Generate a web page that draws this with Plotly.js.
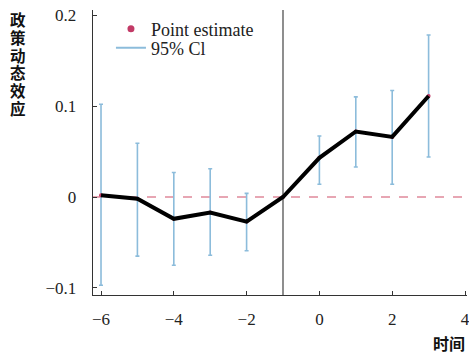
<!DOCTYPE html>
<html><head><meta charset="utf-8">
<script src="https://cdn.plot.ly/plotly-3.0.1.min.js"></script>
<style>body{margin:0;background:#fff}#c{width:469px;height:356px}</style>
</head><body><div id="c"></div>
<script>
var periods = [-6, -5, -4, -3, -2, -1, 0, 1, 2, 3];
var estimate = [0.002, -0.002, -0.024, -0.017, -0.027, 0, 0.043, 0.072, 0.066, 0.111];
var ciUpper = [0.102, 0.059, 0.027, 0.031, 0.004, null, 0.067, 0.110, 0.117, 0.178];
var ciLower = [-0.097, -0.065, -0.075, -0.064, -0.059, null, 0.014, 0.033, 0.014, 0.044];
var xTicks = [-6, -4, -2, 0, 2, 4];
var yTicks = [-0.1, 0, 0.1, 0.2];
var yTickText = ['\u22120.1', '0', '0.1', '0.2'];
var yTitle = '政策动态效应';
var xTitle = '时间';
var eventPeriod = -1;

var ciX = [], ciY = [], errP = [], errM = [];
for (var i = 0; i < periods.length; i++) {
  if (ciUpper[i] === null) continue;
  ciX.push(periods[i]); ciY.push(estimate[i]);
  errP.push(ciUpper[i] - estimate[i]); errM.push(estimate[i] - ciLower[i]);
}
var blue = '#8cbcdb';
var red = '#c23a66';
var traces = [
  {x: ciX, y: ciY, mode: 'markers', marker: {opacity: 0, size: 1}, showlegend: false, hoverinfo: 'skip',
   error_y: {type: 'data', symmetric: false, array: errP, arrayminus: errM, color: blue, thickness: 1.6, width: 2}},
  {x: periods, y: estimate, mode: 'markers', showlegend: false, marker: {color: red, size: 4}},
  {x: [null], y: [null], mode: 'markers', name: 'Point estimate', legend: 'legend', marker: {color: red, size: 7}},
  {x: [null], y: [null], mode: 'lines', name: '95% Cl', legend: 'legend2', line: {color: blue, width: 2}},
  {x: periods, y: estimate, mode: 'lines', showlegend: false, line: {color: '#000', width: 4}}
];
var W = 469, H = 356, L = 93, R = 2, T = 10, B = 61;
var ph = H - T - B, pw = W - L - R;
var ann = [];
for (var k = 0; k < yTitle.length; k++) {
  ann.push({text: yTitle[k], xref: 'paper', yref: 'paper', x: (18 - L) / pw, y: 1 - (19 + 17.8 * k - T) / ph,
    xanchor: 'center', yanchor: 'middle', showarrow: false,
    font: {family: 'Noto Sans CJK SC', size: 15.5, color: '#111', weight: 'bold'}});
}
ann.push({text: '<b>' + xTitle + '</b>', xref: 'paper', yref: 'paper', x: (449 - L) / pw, y: -(343 - T - ph) / ph,
  xanchor: 'center', yanchor: 'middle', showarrow: false, font: {family: 'Noto Sans CJK SC', size: 16, color: '#111'}});

var legFont = {family: 'Liberation Serif', size: 18, color: '#222'};
var layout = {
  width: W, height: H, margin: {l: L, r: R, t: T, b: B},
  paper_bgcolor: '#fff', plot_bgcolor: '#fff',
  font: {family: 'Liberation Serif', size: 17, color: '#222'},
  xaxis: {range: [-6.22, 4.055], tickvals: xTicks, ticks: 'inside', ticklen: 4, tickcolor: '#333',
    showline: true, linecolor: '#333', linewidth: 1.3, showgrid: false, zeroline: false, ticklabelstandoff: 8,
    ticklabeloverflow: 'allow',
    tickfont: {family: 'Liberation Serif', size: 17, color: '#222'}},
  yaxis: {range: [-0.1077, 0.2055], tickvals: yTicks, ticktext: yTickText, ticks: 'inside', ticklen: 4, tickcolor: '#333',
    showline: true, linecolor: '#333', linewidth: 1.3, showgrid: false, zeroline: false, ticklabelstandoff: 12,
    tickfont: {family: 'Liberation Serif', size: 17, color: '#222'}},
  shapes: [
    {type: 'line', xref: 'paper', x0: 0, x1: 1, yref: 'y', y0: 0, y1: 0, line: {color: '#e0899b', width: 1.5, dash: 'dash'}, layer: 'below'},
    {type: 'line', xref: 'x', x0: eventPeriod, x1: eventPeriod, yref: 'paper', y0: 0, y1: 1, line: {color: '#444', width: 1.2}, layer: 'below'}
  ],
  legend: {x: 0.048, y: 1 - (29 - T) / ph, xanchor: 'left', yanchor: 'middle', bgcolor: 'rgba(0,0,0,0)', font: legFont},
  legend2: {x: 0.048, y: 1 - (48 - T) / ph, xanchor: 'left', yanchor: 'middle', bgcolor: 'rgba(0,0,0,0)', font: legFont},
  annotations: ann, showlegend: true
};
Plotly.newPlot('c', traces, layout, {staticPlot: true});
</script></body></html>
